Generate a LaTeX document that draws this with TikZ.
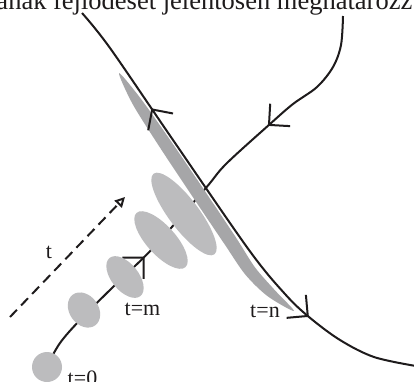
\documentclass[tikz,border=0pt]{standalone}
\usepackage{fontspec}
\setmainfont{Liberation Serif}
\usetikzlibrary{arrows.meta, decorations.markings, shapes.geometric}
\definecolor{ellgray}{RGB}{188,188,190}
\definecolor{bandgray}{RGB}{166,166,168}
\definecolor{inkgray}{RGB}{30,27,28}

\begin{document}
\begin{tikzpicture}[
  x=1pt, y=-1pt,
  blob/.style 2 args={ellipse, fill=ellgray, inner sep=0pt, minimum width=#1, minimum height=#2},
  traj/.style={line width=2pt, inkgray},
  unstable/.style 2 args={postaction={decorate}, decoration={markings,
    mark=at position #1 with {\arrowreversed{Straight Barb[length=15pt,width=30pt]}},
    mark=at position #2 with {\arrow{Straight Barb[length=15pt,width=30pt]}}}},
  stable/.style 2 args={postaction={decorate}, decoration={markings,
    mark=at position #1 with {\arrow{Straight Barb[length=15pt,width=30pt]}},
    mark=at position #2 with {\arrowreversed{Straight Barb[length=15pt,width=30pt]}}}},
  timearrow/.style={-{Triangle[open,length=10pt,width=10pt]}, line width=2pt, dash pattern=on 10pt off 6pt, inkgray},
  lbl/.style={font=\fontsize{22}{26}\selectfont, text=inkgray, inner sep=0pt}
]
\useasboundingbox (0,0) rectangle (414,381);
\clip (0,0) rectangle (414,381);
\fill[white] (0,0) rectangle (414,381);

% Stable curve (into the saddle)
\draw[traj, stable={141pt}{321pt}] plot[smooth, tension=0.55] coordinates {
  (343,16) (341,45) (333,67) (317,87) (293,104) (270,124) (226,164) (205,189)
  (153,248) (115,285) (80,320) (60,343) (47,366)};

% Stretched band along the unstable curve
\fill[bandgray] plot[smooth cycle, tension=0.5] coordinates {
  (119,73) (140.2,97.9) (168.2,137.2) (200.8,185.0) (235.6,237.0) (254.8,267.1) (274.4,289.7)
  (294,311) (267.6,296.2) (245.2,274.4) (224.7,244.4) (189.7,192.4) (157.8,144.2) (132.2,103.3)};

% Growing ellipses
\node[blob={30}{30}] (e0) at (47,367) {};
\node[blob={38}{29}, rotate=-54] (e1) at (84,310) {};
\node[blob={49}{27}, rotate=-51] (e2) at (125,277) {};
\node[blob={73}{29}, rotate=-48] (e3) at (161,240) {};
\node[blob={101}{30}, rotate=-53] (e4) at (184,214) {};

% Unstable curve (out of the saddle)
\draw[traj, unstable={118pt}{380pt}] plot[smooth, tension=0.55] coordinates {
  (82,13) (110,48) (173,140) (249,250) (285,294) (309,317) (340,340) (374,357) (416,366)};

% Time direction
\coordinate (tfrom) at (10,317);
\coordinate (tto) at (125,197);
\draw[timearrow] (tfrom) -- (tto);

% Labels
\node[lbl, anchor=base] (tt) at (49,258.5) {t};
\node[lbl, anchor=base] (tm) at (142.5,315) {t=m};
\node[lbl, anchor=base] (tn) at (265,317) {t=n};
\node[lbl, anchor=base] (t0) at (82.5,385) {t=0};
\node[anchor=base west, inner sep=0pt, font=\fontsize{26.5}{30}\selectfont, text=inkgray] (caption) at (-3.7,9.5) {anak fejlődését jelentősen meghatározz};

\end{tikzpicture}
\end{document}
